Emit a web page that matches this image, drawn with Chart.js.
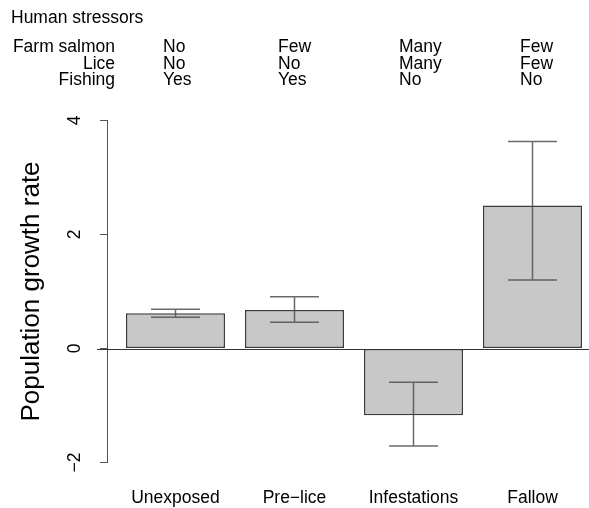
<!DOCTYPE html>
<html>
<head>
<meta charset="utf-8">
<script src="https://cdn.jsdelivr.net/npm/chart.js@4.4.1/dist/chart.umd.min.js"></script>
<style>
    html, body { margin: 0; padding: 0; background: #fff; }
    #wrap { position: relative; width: 589px; height: 508px; }
</style>
</head>
<body>
<div id="wrap"><canvas id="growthChart" width="589" height="508"></canvas></div>
<script>
// Data
const categories = ['Unexposed', 'Pre\u2212lice', 'Infestations', 'Fallow'];
const growthRate = [0.62, 0.675, -1.17, 2.51];
const upperCI = [0.69, 0.91, -0.59, 3.63];
const lowerCI = [0.55, 0.46, -1.71, 1.20];
const yTicks = [-2, 0, 2, 4];

// Human stressor table above the plot
const stressorNames = ['Farm salmon', 'Lice', 'Fishing'];
const farmSalmon = ['No', 'Few', 'Many', 'Few'];
const lice = ['No', 'No', 'Many', 'Few'];
const fishing = ['Yes', 'Yes', 'No', 'No'];

const FONT = "'Liberation Sans', Arial, Helvetica, sans-serif";
Chart.defaults.font.family = FONT;
Chart.defaults.font.size = 17.5;
Chart.defaults.color = '#000';

// header text, zero line, error bars, rotated y labels
const annotations = {
    id: 'annotations',
    afterDatasetsDraw(chart) {
        const ctx = chart.ctx;
        const x = chart.scales.x;
        const y = chart.scales.y;

        ctx.save();
        // horizontal line at 0 across the plot region
        ctx.strokeStyle = '#333';
        ctx.lineWidth = 1;
        const y0 = Math.round(y.getPixelForValue(0)) + 0.5;
        ctx.beginPath();
        ctx.moveTo(97, y0);
        ctx.lineTo(chart.width, y0);
        ctx.stroke();

        // error bars
        ctx.strokeStyle = 'rgba(80, 80, 80, 0.85)';
        ctx.lineWidth = 1.5;
        const cap = 24.5;
        categories.forEach(function (c, i) {
            const px = x.getPixelForValue(i);
            const hi = y.getPixelForValue(upperCI[i]);
            const lo = y.getPixelForValue(lowerCI[i]);
            ctx.beginPath();
            ctx.moveTo(px, hi);
            ctx.lineTo(px, lo);
            ctx.moveTo(px - cap, hi);
            ctx.lineTo(px + cap, hi);
            ctx.moveTo(px - cap, lo);
            ctx.lineTo(px + cap, lo);
            ctx.stroke();
        });
        ctx.restore();
    },
    afterDraw(chart) {
        const ctx = chart.ctx;
        const y = chart.scales.y;
        ctx.save();
        ctx.fillStyle = '#000';

        // rotated y tick labels
        ctx.font = '17.5px ' + FONT;
        ctx.textAlign = 'center';
        ctx.textBaseline = 'alphabetic';
        yTicks.forEach(function (t) {
            ctx.save();
            ctx.translate(80, y.getPixelForValue(t));
            ctx.rotate(-Math.PI / 2);
            ctx.fillText(t < 0 ? '\u2212' + Math.abs(t) : String(t), 0, 0);
            ctx.restore();
        });

        // y axis title
        ctx.save();
        ctx.font = '26px ' + FONT;
        ctx.translate(39, (y.top + y.bottom) / 2);
        ctx.rotate(-Math.PI / 2);
        ctx.fillText('Population growth rate', 0, 0);
        ctx.restore();

        // stressor table
        ctx.font = '17.5px ' + FONT;
        ctx.textAlign = 'left';
        ctx.fillText('Human stressors', 11, 23);
        const rows = [farmSalmon, lice, fishing];
        const rowY = [52, 68.5, 85];
        const colX = [163, 278, 399, 520];
        rows.forEach(function (row, r) {
            ctx.textAlign = 'right';
            ctx.fillText(stressorNames[r], 115, rowY[r]);
            ctx.textAlign = 'left';
            row.forEach(function (v, c) {
                ctx.fillText(v, colX[c], rowY[r]);
            });
        });
        ctx.restore();
    }
};

const ctx = document.getElementById('growthChart').getContext('2d');
const growthChart = new Chart(ctx, {
    type: 'bar',
    data: {
        datasets: [{
            data: categories.map(function (c, i) { return { x: i, y: growthRate[i] }; }),
            backgroundColor: '#c8c8c8',
            borderColor: '#3c3c3c',
            borderWidth: 1.5,
            borderSkipped: false,
            barPercentage: 0.832,
            categoryPercentage: 1
        }]
    },
    options: {
        responsive: false,
        animation: false,
        events: [],
        layout: {
            padding: { top: 120.5, left: 0, right: 0, bottom: 0 }
        },
        plugins: {
            legend: { display: false },
            tooltip: { enabled: false }
        },
        scales: {
            x: {
                type: 'linear',
                offset: false,
                min: -0.5756,
                max: 3.4748,
                afterBuildTicks: function (scale) {
                    scale.ticks = categories.map(function (c, i) { return { value: i }; });
                },
                afterFit: function (scale) {
                    scale.height = 45.5;
                },
                grid: { display: false, drawTicks: false, offset: false },
                border: { display: false },
                ticks: {
                    padding: 25,
                    autoSkip: false,
                    maxRotation: 0,
                    callback: function (value) {
                        return categories[value];
                    }
                }
            },
            y: {
                min: -2,
                max: 4,
                afterBuildTicks: function (scale) {
                    scale.ticks = yTicks.map(function (t) { return { value: t }; });
                },
                afterFit: function (scale) {
                    scale.width = 107;
                },
                grid: {
                    drawOnChartArea: false,
                    drawTicks: true,
                    tickLength: 7,
                    color: '#555',
                    lineWidth: 1
                },
                border: { display: true, color: '#555', width: 1 },
                ticks: { display: false }
            }
        }
    },
    plugins: [annotations]
});
</script>
</body>
</html>
